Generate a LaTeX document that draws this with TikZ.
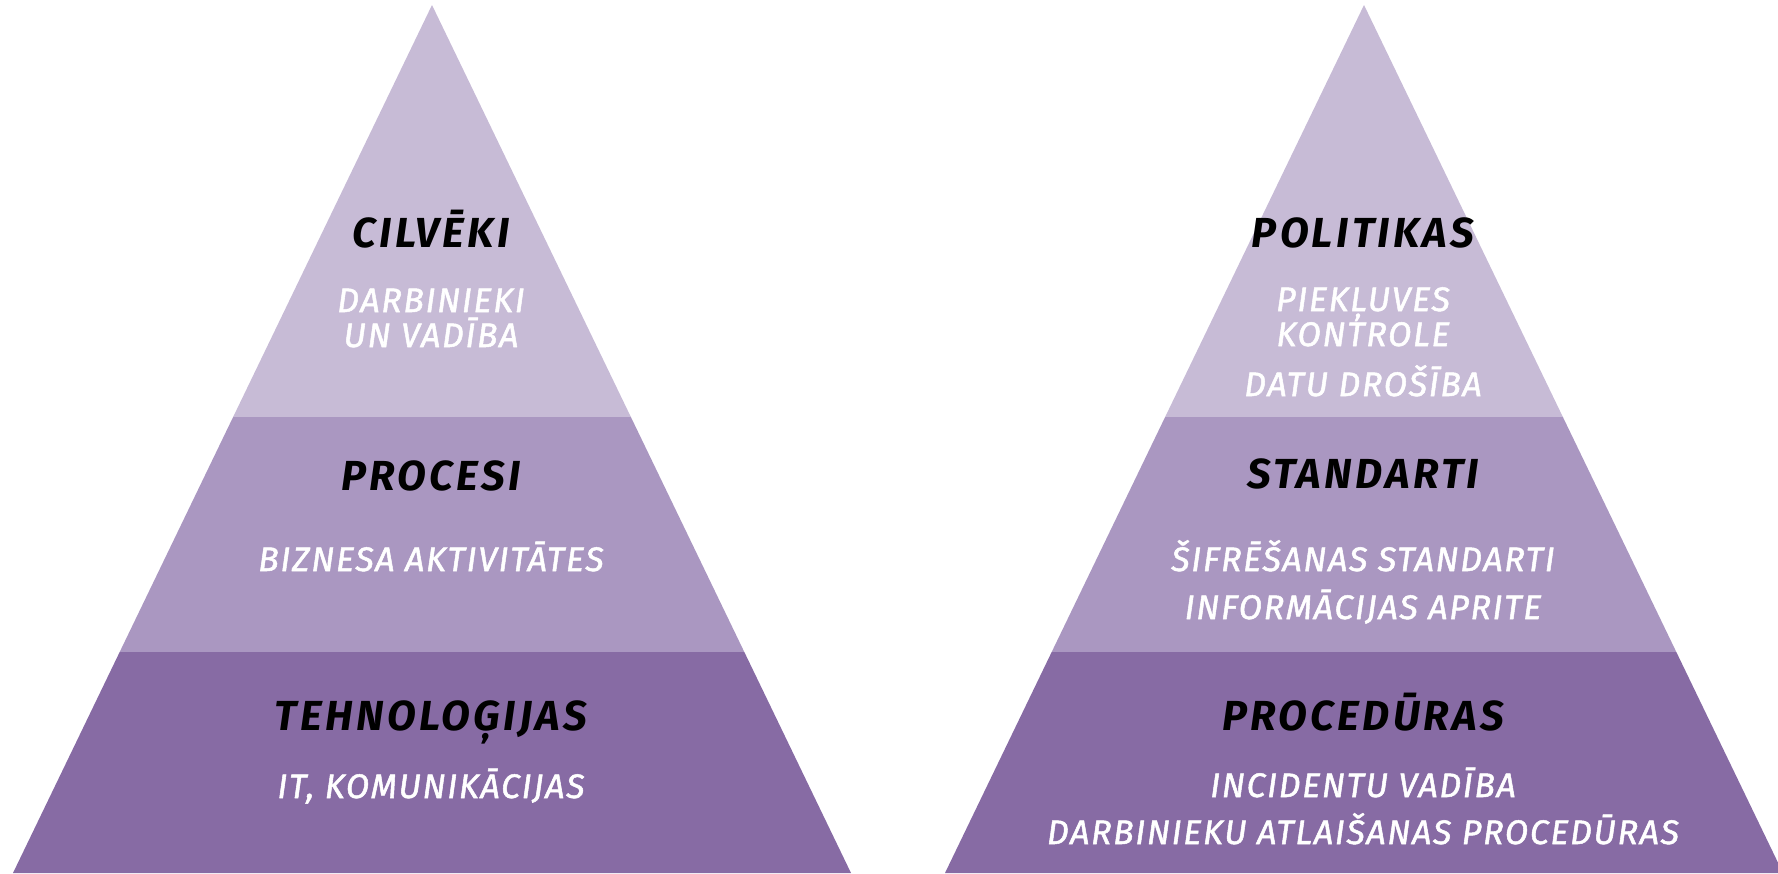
\documentclass[tikz,border=0pt]{standalone}
\usepackage{fontspec}
\setmainfont{Fira Sans}
\newfontfamily\headfont{Fira Sans}[LetterSpace=8]
\newfontfamily\itemfont{Fira Sans}[LetterSpace=5, FakeBold=1.5]
\usetikzlibrary{calc}

\definecolor{lavtop}{HTML}{C7BBD6}
\definecolor{lavmid}{HTML}{AA97C1}
\definecolor{lavbot}{HTML}{876BA4}

\begin{document}
\begin{tikzpicture}[x=1pt, y=-1pt,
  head/.style={anchor=base, inner sep=0pt, text=black, font=\headfont\fontsize{42}{42}\selectfont\bfseries\itshape},
  item/.style={anchor=base, inner sep=0pt, align=center, text=white, font=\itemfont\fontsize{34}{35}\selectfont\itshape}]
\useasboundingbox (0,0) rectangle (1778,873);

% two pyramids: apex, left and right base corners
\coordinate (Lapex) at (432,5);  \coordinate (Lleft) at (13,873);  \coordinate (Lright) at (851,873);
\coordinate (Rapex) at (1364,5); \coordinate (Rleft) at (945,873); \coordinate (Rright) at (1783,873);

\foreach \p in {L,R} {
  \fill[lavtop] (\p apex) -- ($(\p apex)!0.4747!(\p right)$) -- ($(\p apex)!0.4747!(\p left)$) -- cycle;
  \fill[lavmid] ($(\p apex)!0.4747!(\p left)$) -- ($(\p apex)!0.4747!(\p right)$)
    -- ($(\p apex)!0.7454!(\p right)$) -- ($(\p apex)!0.7454!(\p left)$) -- cycle;
  \fill[lavbot] ($(\p apex)!0.7454!(\p left)$) -- ($(\p apex)!0.7454!(\p right)$)
    -- (\p right) -- (\p left) -- cycle;
}

% left pyramid (two-line items sit on their last baseline)
\node[head] (people) at (431,247) {CILVĒKI};
\node[item] (staff) at (431,347) {DARBINIEKI\\UN VADĪBA};
\node[head] (proc) at (431,490) {PROCESI};
\node[item] (biz) at (431,571) {BIZNESA AKTIVITĀTES};
\node[head] (tech) at (431,730) {TEHNOLOĢIJAS};
\node[item] (itcom) at (431,798) {IT, KOMUNIKĀCIJAS};

% right pyramid
\node[head] (policy) at (1363,247) {POLITIKAS};
\node[item] (access) at (1363,346) {PIEKĻUVES\\KONTROLE};
\node[item] (datasec) at (1363,396) {DATU DROŠĪBA};
\node[head] (std) at (1363,488) {STANDARTI};
\node[item] (crypt) at (1363,571) {ŠIFRĒŠANAS STANDARTI};
\node[item] (infoflow) at (1363,619) {INFORMĀCIJAS APRITE};
\node[head] (procd) at (1363,730) {PROCEDŪRAS};
\node[item] (incid) at (1363,797) {INCIDENTU VADĪBA};
\node[item] (dismiss) at (1363,844) {DARBINIEKU ATLAIŠANAS PROCEDŪRAS};
\end{tikzpicture}
\end{document}
